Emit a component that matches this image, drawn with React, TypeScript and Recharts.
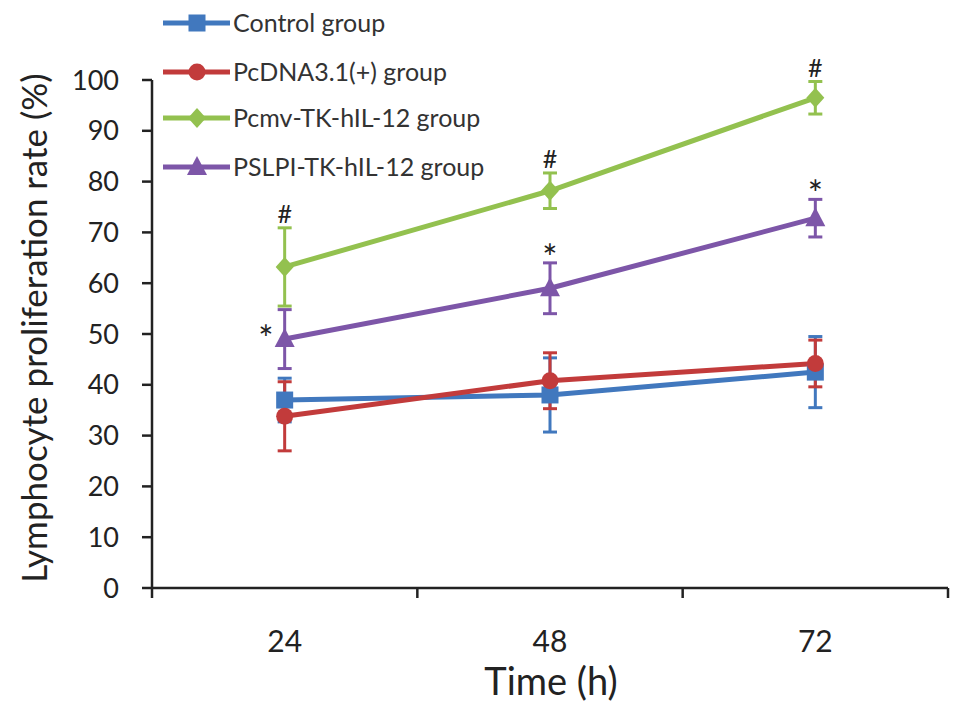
import { LineChart, Line, XAxis, YAxis, ErrorBar, ReferenceDot } from 'recharts';

// hours after treatment
const timePoints = ['24', '48', '72'];

// mean proliferation rate (%) and error per group
const controlMean = [37.0, 38.0, 42.5];
const controlErr = [4.3, 7.3, 7.0];
const pcdnaMean = [33.8, 40.8, 44.2];
const pcdnaErr = [6.8, 5.5, 4.6];
const pcmvMean = [63.2, 78.2, 96.5];
const pcmvErr = [7.7, 3.5, 3.2];
const pslpiMean = [49.0, 59.0, 72.8];
const pslpiErr = [5.8, 5.0, 3.7];

// significance marks shown above each point
const pcmvMarks = ['#', '#', '#'];
const pslpiMarks = ['*', '*', '*'];

const yTicks = [0, 10, 20, 30, 40, 50, 60, 70, 80, 90, 100];

const FONT = 'Lato, "Open Sans", sans-serif';
const AXIS = '#222';

const series = [
  { key: 'control', name: 'Control group', color: '#4178BE', shape: 'square', mean: controlMean, err: controlErr },
  { key: 'pcdna', name: 'PcDNA3.1(+) group', color: '#C23B3B', shape: 'circle', mean: pcdnaMean, err: pcdnaErr },
  { key: 'pcmv', name: 'Pcmv-TK-hIL-12 group', color: '#93C14F', shape: 'diamond', mean: pcmvMean, err: pcmvErr },
  { key: 'pslpi', name: 'PSLPI-TK-hIL-12 group', color: '#7D56A8', shape: 'triangle', mean: pslpiMean, err: pslpiErr },
];

const data = timePoints.map((t, i) => {
  const row: Record<string, number | string> = { x: i + 0.5, time: t };
  series.forEach((s) => {
    row[s.key] = s.mean[i];
    row[s.key + 'Err'] = s.err[i];
  });
  return row;
});

const xTicks: number[] = [];
for (let i = 0; i <= timePoints.length; i++) {
  xTicks.push(i);
  if (i < timePoints.length) xTicks.push(i + 0.5);
}

function Marker({ shape, cx, cy, color }: { shape: string; cx: number; cy: number; color: string }) {
  if (shape === 'square') return <rect x={cx - 8.5} y={cy - 8.5} width={17} height={17} fill={color} />;
  if (shape === 'circle') return <circle cx={cx} cy={cy} r={8.5} fill={color} />;
  if (shape === 'diamond')
    return <polygon points={`${cx},${cy - 10} ${cx + 9},${cy} ${cx},${cy + 10} ${cx - 9},${cy}`} fill={color} />;
  return <polygon points={`${cx},${cy - 11} ${cx + 10},${cy + 8} ${cx - 10},${cy + 8}`} fill={color} />;
}

function XTick(props: any) {
  const { x, y, payload } = props;
  const v = payload.value as number;
  if (Number.isInteger(v)) {
    return <line x1={x} x2={x} y1={y - 10} y2={y} stroke={AXIS} strokeWidth={2.5} />;
  }
  return (
    <text x={x} y={y + 54} textAnchor="middle" fontSize={30} fill={AXIS} fontFamily={FONT}>
      {timePoints[Math.floor(v)]}
    </text>
  );
}

function Legend() {
  const rows = [15, 64, 110, 159];
  return (
    <svg width={520} height={190} style={{ position: 'absolute', left: 0, top: 0, pointerEvents: 'none' }}>
      {series.map((s, i) => (
        <g key={s.key}>
          <line x1={155} x2={222} y1={rows[i]} y2={rows[i]} stroke={s.color} strokeWidth={5} />
          <Marker shape={s.shape} cx={189} cy={rows[i]} color={s.color} />
          <text x={225} y={rows[i] + 9} fontSize={25} fill="#333" fontFamily={FONT}>
            {s.name}
          </text>
        </g>
      ))}
    </svg>
  );
}

export default function App() {
  return (
    <div style={{ position: 'relative', width: 953, height: 694, fontFamily: FONT }}>
      <LineChart width={953} height={694} data={data} margin={{ top: 72, right: 13, bottom: 4, left: 0 }}>
        <XAxis
          type="number"
          dataKey="x"
          domain={[0, timePoints.length]}
          ticks={xTicks}
          interval={0}
          tickSize={10}
          tickMargin={0}
          tickLine={false}
          axisLine={{ stroke: AXIS, strokeWidth: 2.5 }}
          tick={<XTick />}
          height={110}
          label={{
            content: (p: any) => (
              <text
                x={p.viewBox.x + p.viewBox.width / 2 + 1}
                y={p.viewBox.y + 107}
                textAnchor="middle"
                fontSize={38}
                fill={AXIS}
                fontFamily={FONT}
              >
                Time (h)
              </text>
            ),
          }}
        />
        <YAxis
          type="number"
          domain={[0, 100]}
          ticks={yTicks}
          interval={0}
          tickSize={10}
          tickMargin={23}
          tickLine={{ stroke: AXIS, strokeWidth: 2.5 }}
          axisLine={{ stroke: AXIS, strokeWidth: 2.5 }}
          tick={{ fontSize: 27, fill: AXIS, fontFamily: FONT }}
          width={144}
          label={{
            content: (p: any) => {
              const cx = p.viewBox.x + 39;
              const cy = p.viewBox.y + p.viewBox.height / 2 - 6;
              return (
                <text
                  x={cx}
                  y={cy}
                  transform={`rotate(-90 ${cx} ${cy})`}
                  textAnchor="middle"
                  fontSize={35}
                  fill={AXIS}
                  fontFamily={FONT}
                >
                  Lymphocyte proliferation rate (%)
                </text>
              );
            },
          }}
        />
        {series.map((s) => (
          <Line
            key={s.key}
            type="linear"
            dataKey={s.key}
            stroke={s.color}
            strokeWidth={5}
            isAnimationActive={false}
            activeDot={false}
            dot={(p: any) => <Marker key={`${s.key}-${p.index}`} shape={s.shape} cx={p.cx} cy={p.cy} color={s.color} />}
          >
            <ErrorBar dataKey={s.key + 'Err'} width={7} strokeWidth={3} stroke={s.color} direction="y" />
          </Line>
        ))}
        {data.map((d, i) => (
          <ReferenceDot
            key={`pcmv-mark-${i}`}
            x={d.x as number}
            y={pcmvMean[i] + pcmvErr[i]}
            r={0}
            fill="none"
            stroke="none"
            label={{ value: pcmvMarks[i], position: 'top', offset: 5, fontSize: 25, fill: AXIS, fontFamily: FONT }}
          />
        ))}
        {data.map((d, i) =>
          i === 0 ? (
            <ReferenceDot
              key={`pslpi-mark-${i}`}
              x={d.x as number}
              y={pslpiMean[i]}
              r={0}
              fill="none"
              stroke="none"
              label={{ value: pslpiMarks[i], position: 'left', offset: 11, fontSize: 36, fill: AXIS, fontFamily: FONT }}
            />
          ) : (
            <ReferenceDot
              key={`pslpi-mark-${i}`}
              x={d.x as number}
              y={pslpiMean[i] + pslpiErr[i]}
              r={0}
              fill="none"
              stroke="none"
              label={{ value: pslpiMarks[i], position: 'top', offset: -8, fontSize: 36, fill: AXIS, fontFamily: FONT }}
            />
          )
        )}
      </LineChart>
      <Legend />
    </div>
  );
}
